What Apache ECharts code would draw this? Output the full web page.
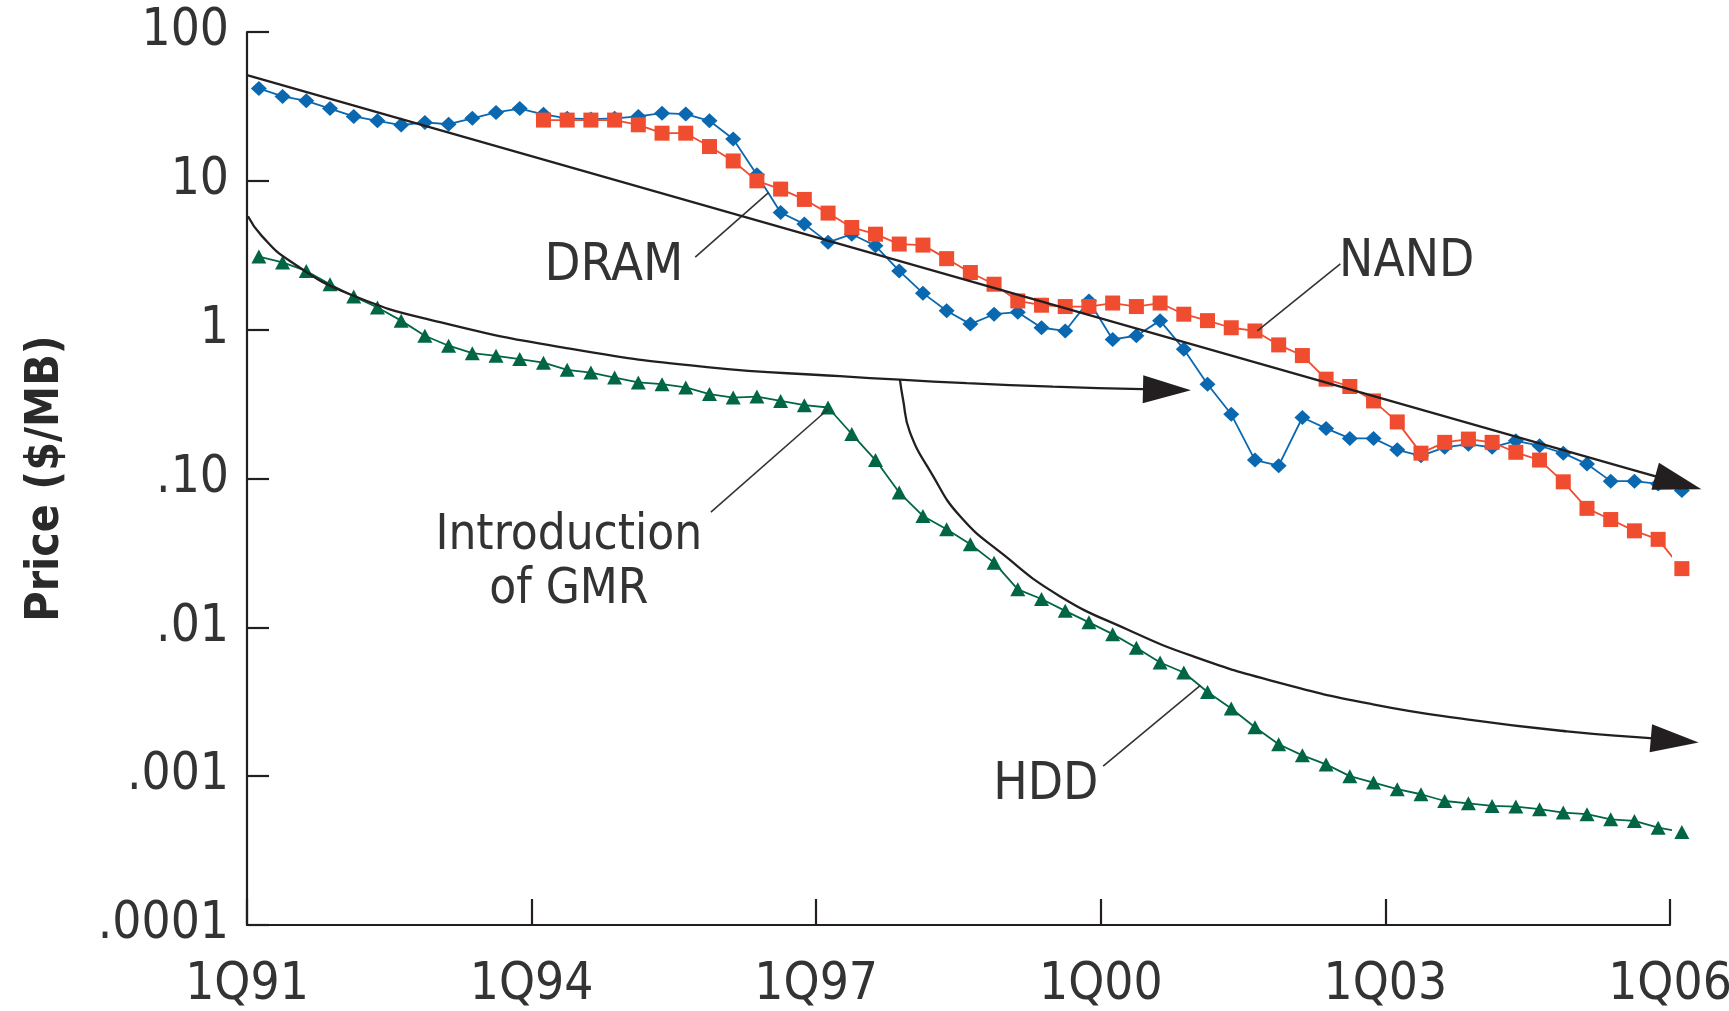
<!DOCTYPE html>
<html>
<head>
<meta charset="utf-8">
<script src="https://cdn.jsdelivr.net/npm/echarts@6/dist/echarts.min.js"></script>
<style>
html,body{margin:0;padding:0;background:#ffffff;}
#chart{width:1729px;height:1011px;}
</style>
</head>
<body>
<div id="chart"></div>
<script>
// ---------- data (quarters counted from 1Q91; value read at mid-quarter) ----------
const xTickLabels = ['1Q91', '1Q94', '1Q97', '1Q00', '1Q03', '1Q06'];
const yTickLabels = ['.0001', '.001', '.01', '.10', '1', '10', '100'];

const dramStart = 0;
const dramValues = [
  41.8, 36.9, 34.5, 30.6, 27.1, 25.3, 23.7, 24.7, 24.0, 26.3,
  28.8, 30.6, 28.0, 26.3, 26.0, 26.3, 27.1, 28.5, 28.1, 25.3,
  19.1, 11.0, 6.13, 5.12, 3.86, 4.38, 3.66, 2.48, 1.76, 1.34,
  1.09, 1.27, 1.31, 1.03, 0.98, 1.56, 0.86, 0.91, 1.15, 0.74,
  0.43, 0.27, 0.133, 0.122, 0.257, 0.217, 0.186, 0.186, 0.156, 0.142,
  0.162, 0.17, 0.162, 0.179, 0.166, 0.148, 0.125, 0.096, 0.096, 0.092,
  0.083
];

const nandStart = 12;
const nandValues = [
  25.6, 25.6, 25.6, 25.6, 23.8, 20.9, 20.9, 17.0, 13.6, 10.0,
  8.8, 7.5, 6.07, 4.86, 4.38, 3.76, 3.70, 3.0, 2.42, 2.02,
  1.56, 1.46, 1.43, 1.43, 1.51, 1.43, 1.51, 1.27, 1.15, 1.03,
  0.98, 0.79, 0.67, 0.465, 0.415, 0.332, 0.24, 0.148, 0.175, 0.184,
  0.175, 0.15, 0.133, 0.095, 0.063, 0.053, 0.0445, 0.039, 0.0248
];

const hddStart = 0;
const hddValues = [
  3.10, 2.83, 2.48, 2.02, 1.67, 1.41, 1.15, 0.91, 0.78, 0.695,
  0.667, 0.634, 0.60, 0.537, 0.515, 0.477, 0.442, 0.43, 0.409, 0.369,
  0.35, 0.355, 0.332, 0.311, 0.30, 0.199, 0.133, 0.0805, 0.056, 0.0456,
  0.0362, 0.0272, 0.018, 0.0155, 0.0129, 0.0108, 0.009, 0.0073, 0.0058, 0.00497,
  0.00368, 0.00285, 0.00213, 0.00164, 0.00138, 0.0012, 0.001, 0.000906, 0.000817, 0.000756,
  0.000681, 0.000657, 0.000631, 0.000625, 0.0006, 0.000569, 0.000555, 0.000513, 0.0005, 0.000451,
  0.000422
];

// semiconductor trend line (straight on log scale); last point = arrow-head centre
const trendSemiQ = [0, 58.35, 60.35];
const trendSemiV = [51.3, 0.115, 0.0937];

// HDD trend before GMR; last point = arrow-head centre
const trendPreQ = [0.04, 0.63, 1.81, 4.34, 8.14, 13.74, 19.39, 25.0, 27.53, 30.35, 33.98, 37.77, 38.79];
const trendPreV = [5.79, 4.25, 2.89, 1.73, 1.123, 0.739, 0.56, 0.487, 0.461, 0.437, 0.414, 0.398, 0.395];

// HDD trend after GMR; last point = arrow-head centre
const trendPostQ = [27.53, 27.66, 27.95, 28.88, 30.06, 31.87, 34.27, 37.1, 39.88, 43.42, 47.47, 51.43, 55.65, 59.15, 60.2];
const trendPostV = [0.461, 0.341, 0.205, 0.107, 0.0559, 0.031, 0.0162, 0.0097, 0.0064, 0.00428, 0.00304, 0.00241, 0.002, 0.0018, 0.00174];

// leader lines [from, to]
const leaderDramQ = [18.9, 22.0];  const leaderDramV = [3.07, 8.36];
const leaderNandQ = [42.6, 46.1];  const leaderNandV = [0.98, 2.77];
const leaderGmrQ  = [24.5, 19.56]; const leaderGmrV  = [0.292, 0.0594];
const leaderHddQ  = [40.2, 36.1];  const leaderHddV  = [0.00408, 0.00117];

// annotation texts and anchor (centre) positions
const annoTexts = ['DRAM', 'NAND', 'Introduction\nof GMR', 'HDD'];
const annoQ = [15.47, 48.9, 13.57, 33.68];
const annoV = [2.89, 3.03, 0.0291, 0.000938];

// ---------- helpers ----------
function toPoints(start, values) {
  return values.map((v, i) => [start + i + 0.5, v]);
}
function zipQV(q, v) { return q.map((x, i) => [x, v[i]]); }

const INK = '#231f20';
const TXT = '#333333';
const FONT = '"Liberation Sans Narrow", "DejaVu Sans Condensed", "Liberation Sans", sans-serif';
const annoFontSizes = [52, 51, 49, 51];

function trendSeries(name, q, v) {
  return {
    name: name, type: 'line', data: zipQV(q, v), showSymbol: false, symbol: 'none',
    smooth: 0.5, clip: false, silent: true, z: 5,
    lineStyle: { color: INK, width: 2.3 }
  };
}
function leaderSeries(q, v) {
  return {
    type: 'line', data: zipQV(q, v), showSymbol: false, symbol: 'none', clip: false,
    silent: true, z: 4, lineStyle: { color: '#333333', width: 1.6 }
  };
}

const chart = echarts.init(document.getElementById('chart'), null, { renderer: 'canvas' });

const option = {
  animation: false,
  backgroundColor: '#ffffff',
  grid: { left: 247, right: 59, top: 32, bottom: 86, containLabel: false, outerBoundsMode: 'none' },
  xAxis: {
    type: 'value', min: 0, max: 60, interval: 12,
    axisLine: { show: true, lineStyle: { color: INK, width: 2.2 } },
    axisTick: { show: true, inside: true, length: 26, lineStyle: { color: INK, width: 2.2 } },
    splitLine: { show: false },
    axisLabel: {
      margin: 35, color: TXT, fontFamily: FONT, fontSize: 51,
      formatter: function (val) { return xTickLabels[Math.round(val / 12)] || ''; }
    }
  },
  yAxis: {
    type: 'log', logBase: 10, min: 0.0001, max: 100, interval: 1,
    name: 'Price ($/MB)', nameLocation: 'middle', nameRotate: 90, nameGap: 178,
    nameTextStyle: { color: '#2a2a2a', fontFamily: FONT, fontWeight: 'bold', fontSize: 46 },
    axisLine: { show: true, lineStyle: { color: INK, width: 2.2 } },
    axisTick: { show: true, inside: true, length: 22, lineStyle: { color: INK, width: 2.2 } },
    splitLine: { show: false },
    axisLabel: {
      margin: 18, color: TXT, fontFamily: FONT, fontSize: 51,
      formatter: function (val) {
        const k = Math.round(Math.log10(val)) + 4;
        return yTickLabels[k] || '';
      }
    }
  },
  series: [
    {
      name: 'DRAM', type: 'line', data: toPoints(dramStart, dramValues), clip: false,
      symbol: 'diamond', symbolSize: [16, 15], showSymbol: true, z: 2,
      lineStyle: { color: '#0a68b0', width: 1.8 }, itemStyle: { color: '#0a68b0' }
    },
    {
      name: 'NAND', type: 'line', data: toPoints(nandStart, nandValues), clip: false,
      symbol: 'rect', symbolSize: 15, showSymbol: true, z: 3,
      lineStyle: { color: '#f04c2f', width: 1.8 }, itemStyle: { color: '#f04c2f' }
    },
    {
      name: 'HDD', type: 'line', data: toPoints(hddStart, hddValues), clip: false,
      symbol: 'triangle', symbolSize: [15, 14], showSymbol: true, z: 2,
      lineStyle: { color: '#006646', width: 1.8 }, itemStyle: { color: '#006646' }
    },
    trendSeries('trendSemi', trendSemiQ, trendSemiV),
    trendSeries('trendPre', trendPreQ, trendPreV),
    trendSeries('trendPost', trendPostQ, trendPostV),
    leaderSeries(leaderDramQ, leaderDramV),
    leaderSeries(leaderNandQ, leaderNandV),
    leaderSeries(leaderGmrQ, leaderGmrV),
    leaderSeries(leaderHddQ, leaderHddV),
    {
      type: 'scatter', silent: true, clip: false, z: 6, symbolSize: 1,
      itemStyle: { color: 'rgba(255,255,255,0)', opacity: 1 },
      data: annoTexts.map((t, i) => ({
        value: [annoQ[i], annoV[i]], name: t,
        label: { fontSize: annoFontSizes[i] }
      })),
      label: {
        show: true, position: 'inside', offset: [0, 5], formatter: function (p) { return p.name; },
        color: TXT, opacity: 1, fontFamily: FONT, fontSize: 51, lineHeight: 54,
        align: 'center', verticalAlign: 'middle'
      }
    }
  ]
};
chart.setOption(option);

// arrow heads: placed at the last point of each trend line, rotated along its last segment
function arrowAngle(q, v) {
  const n = q.length;
  const p1 = chart.convertToPixel({ gridIndex: 0 }, [q[n - 2], v[n - 2]]);
  const p2 = chart.convertToPixel({ gridIndex: 0 }, [q[n - 1], v[n - 1]]);
  return Math.atan2(-(p2[1] - p1[1]), p2[0] - p1[0]) * 180 / Math.PI - 90;
}
const trends = [[trendSemiQ, trendSemiV], [trendPreQ, trendPreV], [trendPostQ, trendPostV]];
option.series.push({
  type: 'scatter', silent: true, clip: false, z: 7,
  symbol: 'triangle', symbolSize: [28, 48],
  itemStyle: { color: INK, opacity: 1 },
  data: trends.map(t => ({
    value: [t[0][t[0].length - 1], t[1][t[1].length - 1]],
    symbolRotate: arrowAngle(t[0], t[1])
  }))
});
chart.setOption(option);
</script>
</body>
</html>
